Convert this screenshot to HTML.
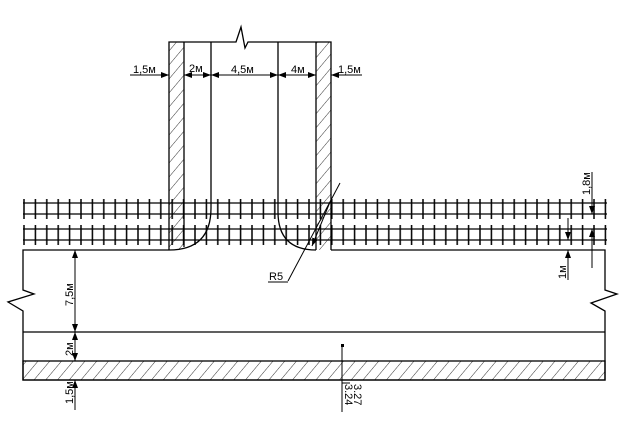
<!DOCTYPE html>
<html><head><meta charset="utf-8"><style>
html,body{margin:0;padding:0;background:#fff;}
svg{display:block;}
text{font-family:"Liberation Sans",sans-serif;font-size:11px;fill:#000;}
</style></head><body>
<svg width="621" height="428" viewBox="0 0 621 428" xmlns="http://www.w3.org/2000/svg">
<defs>
<pattern id="ties" x="23" y="0" width="11.4" height="428" patternUnits="userSpaceOnUse">
<line x1="1" y1="199" x2="1" y2="219" stroke="#000" stroke-width="1.5"/>
<line x1="1" y1="225" x2="1" y2="245" stroke="#000" stroke-width="1.5"/>
</pattern>
<pattern id="hatch" width="9" height="9" patternUnits="userSpaceOnUse" patternTransform="rotate(40)">
<line x1="0" y1="0" x2="0" y2="9" stroke="#000" stroke-width="0.8"/>
</pattern>
<marker id="ar" markerWidth="8" markerHeight="6" refX="8" refY="3" orient="auto" markerUnits="userSpaceOnUse">
<path d="M0,0 L8,3 L0,6 Z" fill="#000"/>
</marker>
</defs>
<g stroke="#000" fill="none" stroke-width="1.3">
<rect x="169" y="42" width="15" height="208" fill="url(#hatch)" stroke="none"/>
<rect x="316" y="42" width="15" height="208" fill="url(#hatch)" stroke="none"/>
<rect x="23" y="195" width="584" height="52" fill="url(#ties)" stroke="none"/>
<line x1="23" y1="203" x2="607" y2="203"/>
<line x1="23" y1="214" x2="607" y2="214"/>
<line x1="23" y1="229" x2="607" y2="229"/>
<line x1="23" y1="240" x2="607" y2="240"/>
<path d="M169,250 L169,42 L236,42 L241,27 L245,48 L248,42 L331,42 L331,250"/>
<line x1="184" y1="42" x2="184" y2="247"/>
<line x1="316" y1="42" x2="316" y2="250"/>
<path d="M211,42 L211,208 Q211,250 169,250"/>
<path d="M278,42 L278,212 Q278,250 316,250"/>
<path d="M169,250 L23,250 L23,290 L34,294 L8,302 L23,311 L23,380 L605,380 L605,311 L591,303 L617,294 L605,290 L605,250 L331,250"/>
<line x1="23" y1="332" x2="605" y2="332"/>
<rect x="23" y="361" width="582" height="19" fill="url(#hatch)"/>
</g>
<g stroke="#000" fill="none" stroke-width="1">
<line x1="130" y1="75" x2="169" y2="75" marker-end="url(#ar)"/>
<line x1="197" y1="75" x2="184" y2="75" marker-end="url(#ar)"/>
<line x1="197" y1="75" x2="211" y2="75" marker-end="url(#ar)"/>
<line x1="244" y1="75" x2="211" y2="75" marker-end="url(#ar)"/>
<line x1="244" y1="75" x2="278" y2="75" marker-end="url(#ar)"/>
<line x1="297" y1="75" x2="278" y2="75" marker-end="url(#ar)"/>
<line x1="297" y1="75" x2="316" y2="75" marker-end="url(#ar)"/>
<line x1="362" y1="75" x2="331" y2="75" marker-end="url(#ar)"/>
<line x1="75" y1="290" x2="75" y2="250" marker-end="url(#ar)"/>
<line x1="75" y1="290" x2="75" y2="332" marker-end="url(#ar)"/>
<line x1="75" y1="346" x2="75" y2="332" marker-end="url(#ar)"/>
<line x1="75" y1="346" x2="75" y2="361" marker-end="url(#ar)"/>
<line x1="75" y1="410" x2="75" y2="380" marker-end="url(#ar)"/>
<line x1="568" y1="218" x2="568" y2="240" marker-end="url(#ar)"/>
<line x1="568" y1="280" x2="568" y2="250" marker-end="url(#ar)"/>
<line x1="592" y1="172" x2="592" y2="214" marker-end="url(#ar)"/>
<line x1="592" y1="268" x2="592" y2="229" marker-end="url(#ar)"/>
<line x1="340" y1="183" x2="288" y2="281"/>
<line x1="330" y1="202" x2="312" y2="246" marker-end="url(#ar)"/>
<line x1="268" y1="282" x2="288" y2="282"/>
<line x1="342" y1="346" x2="342" y2="412"/>
<line x1="342" y1="383" x2="350" y2="383"/>
</g>
<rect x="341" y="344" width="3" height="3" fill="#000"/>
<text x="133" y="73">1,5м</text>
<text x="189" y="72">2м</text>
<text x="231" y="73">4,5м</text>
<text x="291" y="73">4м</text>
<text x="338" y="73">1,5м</text>
<text x="269" y="280" font-size="12">R5</text>
<text transform="translate(73,306) rotate(-90)">7,5м</text>
<text transform="translate(73,356) rotate(-90)">2м</text>
<text transform="translate(73,404) rotate(-90)">1,5м</text>
<text transform="translate(566,279) rotate(-90)">1м</text>
<text transform="translate(590,195) rotate(-90)">1,8м</text>
<text transform="translate(345,384) rotate(90)" font-size="10">3.24</text>
<text transform="translate(354,384) rotate(90)" font-size="10">3.27</text>
</svg>
</body></html>
